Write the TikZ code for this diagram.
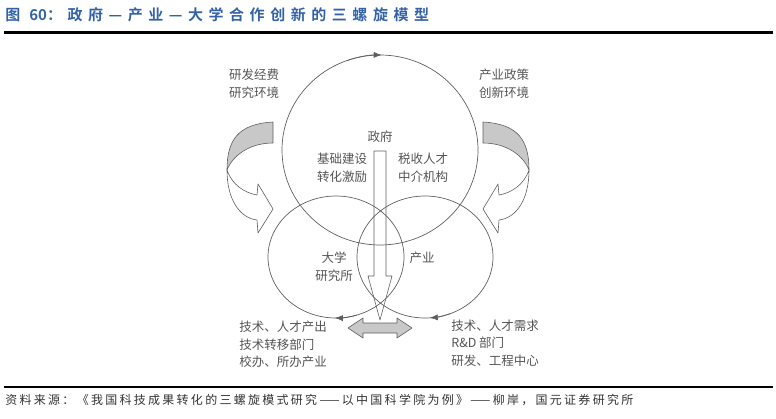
\documentclass[tikz,border=0pt]{standalone}
\usepackage{fontspec}
\usepackage{xcolor}
\usepackage{tikz}
\usetikzlibrary{arrows.meta,positioning}
\setmainfont{Liberation Serif}
\newfontfamily\cjk{Noto Sans CJK SC}
\newfontfamily\titlefont{Noto Sans CJK SC}[BoldFont={Noto Sans CJK SC Bold},LetterSpace=37]
\newfontfamily\titlenum{Noto Sans CJK SC}[BoldFont={Noto Sans CJK SC Bold}]
\newfontfamily\srcfont{Noto Sans CJK SC}[LetterSpace=19]
\definecolor{titleblue}{RGB}{52,98,168}
\definecolor{linegray}{RGB}{95,95,95}
\definecolor{txtgray}{RGB}{85,85,85}
\definecolor{bandgray}{RGB}{200,200,200}

\begin{document}
\begin{tikzpicture}[x=1pt,y=-1pt,line width=.7pt,
  ring/.style={draw=linegray},
  tip/.style={-{Latex[length=8pt,width=6pt]}},
  band/.style={draw=linegray,line width=.6pt,line join=round},
  lbl/.style={text=txtgray,font=\cjk\fontsize{12.5}{18}\selectfont,align=center,inner sep=0pt},
  lst/.style={lbl,align=left,anchor=west,font=\cjk\fontsize{12.5}{17.5}\selectfont}]
\useasboundingbox (0,0) rectangle (776,418);
\node[anchor=west,inner sep=0pt,text=titleblue,font=\titlefont\bfseries\fontsize{15}{18}\selectfont] (title) at (5,15) {图 {\titlenum\bfseries 60}：政府—产业—大学合作创新的三螺旋模型};
\draw[line width=3pt] (4,32.5) -- (773,32.5);

\draw[ring] (380,150) ellipse [x radius=98,y radius=95];
\draw[ring] (336,257) ellipse [x radius=68,y radius=61];
\draw[ring] (425,257) ellipse [x radius=68,y radius=61];
\draw[ring,tip] (380,150) ++(250:98 and 95) arc[start angle=250,end angle=271,x radius=98,y radius=95];
\draw[ring,tip] (336,257) ++(72:68 and 61) arc[start angle=72,end angle=91,x radius=68,y radius=61];
\draw[ring,tip] (425,257) ++(68:68 and 61) arc[start angle=68,end angle=86,x radius=68,y radius=61];

\draw[band] (374,151) -- (374,276) -- (368,276) -- (380,320) -- (392,276) -- (386,276) -- (386,151) -- cycle;
\draw[band,fill=bandgray] (348,328) -- (363,318) -- (363,323) -- (397,323) -- (397,318) -- (412,328) -- (397,338) -- (397,333) -- (363,333) -- (363,338) -- cycle;

\foreach \sx in {1,-1}{
\begin{scope}[shift={(378,0)},xscale=\sx]
\draw[band,fill=bandgray] (-105,122) .. controls (-140,124) and (-151,140) .. (-151,170) .. controls (-145,155) and (-128,143) .. (-105,143) -- cycle;
\draw[band,fill=white] (-151,170) .. controls (-146,185) and (-133,193) .. (-121,195) -- (-120,184) -- (-105,209) -- (-120,233) -- (-121,220) .. controls (-138,218) and (-151,200) .. (-151,170) -- cycle;
\end{scope}}

\node[lbl] (funds) at (254,84) {研发经费\\研究环境};
\node[lbl] (policy) at (504,84) {产业政策\\创新环境};
\node[lbl] (gov) at (380,137) {政府};
\node[lbl] (infra) at (342,167.5) {基础建设\\转化激励};
\node[lbl] (tax) at (423,167.5) {税收人才\\中介机构};
\node[lbl] (univ) at (334,267) {大学\\研究所};
\node[lbl] (ind) at (422,258) {产业};
\node[lst] (supply) at (239,344.5) {技术、人才产出\\技术转移部门\\校办、所办产业};
\node[lst] (demand) at (451,343) {技术、人才需求\\R\&D 部门\\研发、工程中心};

\draw[line width=2.5pt] (4,387) -- (773,387);
\node[anchor=west,inner sep=0pt,text=black!80,font=\srcfont\fontsize{12}{14}\selectfont] (src) at (5,400) {资料来源：《我国科技成果转化的三螺旋模式研究——以中国科学院为例》——柳岸，国元证券研究所};
\end{tikzpicture}
\end{document}
